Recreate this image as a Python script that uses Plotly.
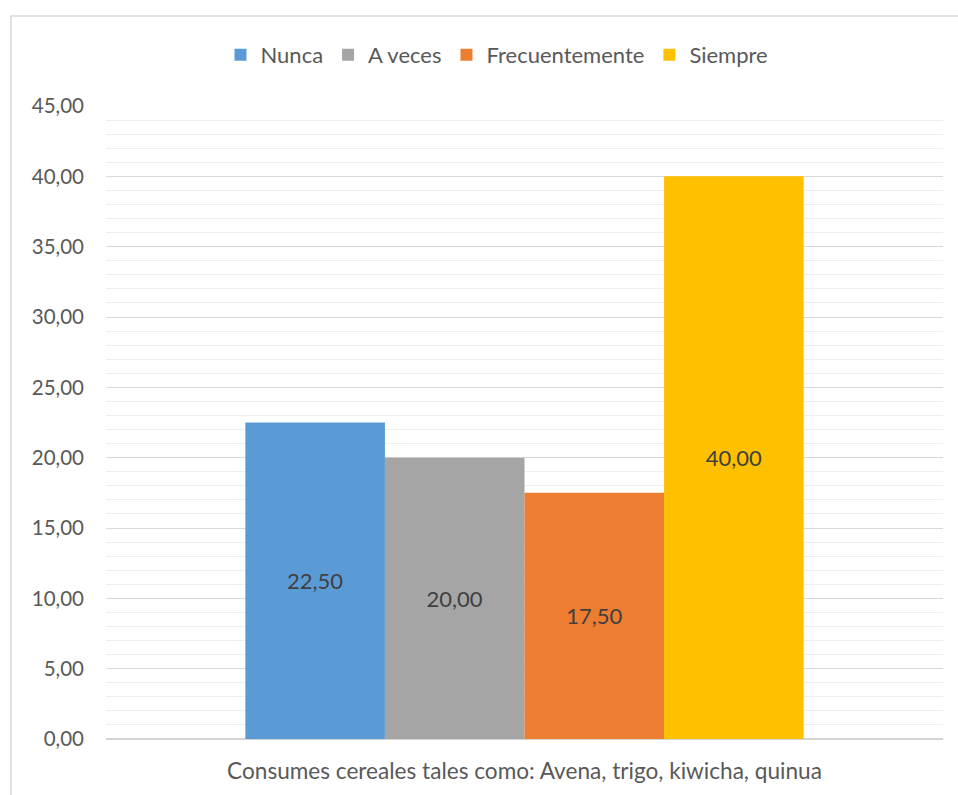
import plotly.graph_objects as go

category = ["Consumes cereales tales como: Avena, trigo, kiwicha, quinua"]
series_names = ["Nunca", "A veces", "Frecuentemente", "Siempre"]
series_values = [22.50, 20.00, 17.50, 40.00]
series_colors = ["#5B9BD5", "#A5A5A5", "#ED7D31", "#FFC000"]
y_ticks = [0, 5, 10, 15, 20, 25, 30, 35, 40, 45]

FONT = "Lato, Calibri, Carlito, sans-serif"

fig = go.Figure()
for name, val, col in zip(series_names, series_values, series_colors):
    fig.add_trace(go.Bar(
        name=name,
        x=category,
        y=[val],
        marker=dict(color=col, line=dict(width=0)),
        text=[f"{val:.2f}".replace(".", ",")],
        textposition="inside",
        insidetextanchor="middle",
        textangle=0,
        textfont=dict(family=FONT, size=22, color="#404040"),
        hoverinfo="skip",
    ))

# Plot area: l=106, r=943, t=106, b=739 in a 958x795 page
L, R, T, B = 106, 943, 106, 739
W, H = R - L, B - T

def px_x(p):
    return (p - L) / W

def px_y(p):
    return (B - p) / H

fig.update_layout(
    width=958,
    height=795,
    margin=dict(l=L, r=958 - R, t=T, b=795 - B, autoexpand=False),
    paper_bgcolor="white",
    plot_bgcolor="white",
    separators=",.",
    barmode="group",
    bargap=0.333,
    bargroupgap=0,
    font=dict(family=FONT, color="#595959", size=18),
    legend=dict(
        orientation="h",
        x=px_x(497), xanchor="center",
        y=px_y(55), yanchor="middle",
        font=dict(family=FONT, size=22, color="#595959"),
        itemwidth=30,
        traceorder="normal",
    ),
    xaxis=dict(
        showgrid=False,
        showline=False,
        ticks="",
        ticklabelstandoff=16,
        tickfont=dict(family=FONT, size=22.6, color="#595959"),
        fixedrange=True,
    ),
    yaxis=dict(
        range=[0, 45],
        tickvals=y_ticks,
        tickformat=".2f",
        showgrid=True,
        gridcolor="#D9D9D9",
        gridwidth=1.3,
        minor=dict(dtick=1, showgrid=True, gridcolor="#EEEEEE", gridwidth=1.3),
        zeroline=True,
        zerolinecolor="#D4D4D4",
        zerolinewidth=1.5,
        showline=False,
        ticks="",
        ticklabelstandoff=21,
        tickfont=dict(family=FONT, size=20.5, color="#595959"),
        fixedrange=True,
    ),
    shapes=[
        dict(
            type="rect", xref="paper", yref="paper", layer="below",
            x0=px_x(11), x1=px_x(970), y0=px_y(810), y1=px_y(16),
            line=dict(color="#D9D9D9", width=1.5),
            fillcolor="rgba(0,0,0,0)",
        )
    ],
)

fig.write_html("out.html")
